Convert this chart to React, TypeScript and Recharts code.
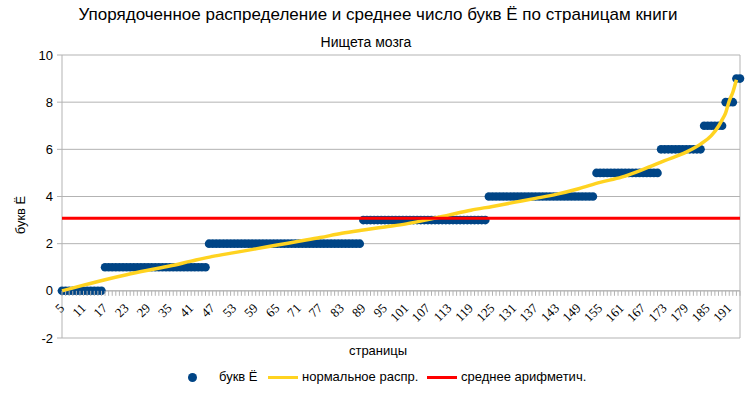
import React from 'react';
import {
  ComposedChart, Scatter, Line, XAxis, YAxis,
  CartesianGrid, ReferenceLine,
} from 'recharts';

// sorted count of letter Ё per page, pages 5..194
const FIRST_PAGE = 5;
const LETTER_COUNTS = [
  0, 0, 0, 0, 0, 0, 0, 0, 0, 0, 0, 0,
  1, 1, 1, 1, 1, 1, 1, 1, 1, 1, 1, 1, 1, 1, 1, 1, 1, 1, 1, 1, 1, 1, 1, 1, 1, 1, 1, 1, 1,
  2, 2, 2, 2, 2, 2, 2, 2, 2, 2, 2, 2, 2, 2, 2, 2, 2, 2, 2, 2, 2, 2,
  2, 2, 2, 2, 2, 2, 2, 2, 2, 2, 2, 2, 2, 2, 2, 2, 2, 2, 2, 2, 2,
  3, 3, 3, 3, 3, 3, 3, 3, 3, 3, 3, 3, 3, 3, 3, 3, 3, 3,
  3, 3, 3, 3, 3, 3, 3, 3, 3, 3, 3, 3, 3, 3, 3, 3, 3,
  4, 4, 4, 4, 4, 4, 4, 4, 4, 4, 4, 4, 4, 4, 4,
  4, 4, 4, 4, 4, 4, 4, 4, 4, 4, 4, 4, 4, 4, 4,
  5, 5, 5, 5, 5, 5, 5, 5, 5, 5, 5, 5, 5, 5, 5, 5, 5, 5,
  6, 6, 6, 6, 6, 6, 6, 6, 6, 6, 6, 6,
  7, 7, 7, 7, 7, 7,
  8, 8, 8,
  9, 9,
];

// normal distribution curve
const NORM_PAGES = [
  5, 11, 17, 23, 29, 35, 41, 47, 53, 59, 65, 71, 77, 83, 89, 95, 101, 107, 113,
  119, 125, 131, 137, 143, 149, 155, 161, 167, 173, 179, 183, 186, 188, 189, 190,
  191, 192, 193,
];
const NORM_VALUES = [
  0.0, 0.24, 0.47, 0.68, 0.87, 1.05, 1.26, 1.46, 1.62, 1.78, 1.94, 2.1, 2.26,
  2.44, 2.58, 2.71, 2.84, 3.02, 3.22, 3.42, 3.58, 3.75, 3.92, 4.1, 4.33, 4.6,
  4.82, 5.15, 5.52, 5.88, 6.22, 6.58, 6.98, 7.25, 7.55, 8.05, 8.42, 8.95,
];

const MEAN_VALUE = 3.08;
const LAST_PAGE = 194;

const X_TICKS = [
  5, 11, 17, 23, 29, 35, 41, 47, 53, 59, 65, 71, 77, 83, 89, 95, 101, 107, 113,
  119, 125, 131, 137, 143, 149, 155, 161, 167, 173, 179, 185, 191,
];
const Y_TICKS = [-2, 0, 2, 4, 6, 8, 10];

const BLUE = '#004586';
const YELLOW = '#ffd320';
const RED = '#ff0000';
const GRID = '#b3b3b3';

const W = 756;
const H = 398;
const PLOT_TOP = 55;
const X_AXIS_H = 60;
const PLOT_BOTTOM = H - X_AXIS_H;
const Y0 = PLOT_BOTTOM - ((PLOT_BOTTOM - PLOT_TOP) * 2) / 12;

const countData = LETTER_COUNTS.map((c, i) => ({ page: FIRST_PAGE + i, count: c }));
const allPages = countData.map(d => d.page);
const normData = NORM_PAGES.map((p, i) => ({ page: p, norm: NORM_VALUES[i] }));
const meanData = [
  { page: FIRST_PAGE, mean: MEAN_VALUE },
  { page: LAST_PAGE, mean: MEAN_VALUE },
];

const SANS = '"Liberation Sans", Arial, sans-serif';
const NARROW = '"Liberation Sans Narrow", "Liberation Sans", sans-serif';

function PageTick(props: any) {
  const { x, payload } = props;
  const v = payload.value as number;
  const labelled = X_TICKS.includes(v);
  return (
    <g>
      <line x1={x} x2={x} y1={Y0} y2={Y0 + 5} stroke={GRID} />
      {labelled && (
        <text
          x={x + 3}
          y={Y0 + 18}
          textAnchor="end"
          fontSize={13}
          fontFamily='"Liberation Serif", serif'
          fill="#000"
          transform={`rotate(-45, ${x + 3}, ${Y0 + 18})`}
        >
          {v}
        </text>
      )}
    </g>
  );
}

const Dot = (props: any) => (
  <circle cx={props.cx} cy={props.cy} r={4.3} fill={BLUE} />
);

export default function App() {
  return (
    <div style={{ position: 'absolute', left: 0, top: 0, width: W, height: H, background: '#fff' }}>
      <ComposedChart
        width={W}
        height={H}
        margin={{ top: PLOT_TOP, right: 16, bottom: 0, left: 0 }}
      >
        <CartesianGrid vertical={false} stroke={GRID} />
        <XAxis
          type="number"
          dataKey="page"
          domain={[FIRST_PAGE, LAST_PAGE]}
          ticks={allPages}
          interval={0}
          height={X_AXIS_H}
          axisLine={false}
          tickLine={false}
          tick={<PageTick />}
        />
        <YAxis
          type="number"
          domain={[-2, 10]}
          ticks={Y_TICKS}
          interval={0}
          width={62}
          axisLine={{ stroke: GRID }}
          tickLine={{ stroke: GRID }}
          tickSize={5}
          tickMargin={4}
          tick={{ fontSize: 13, fill: '#000', fontFamily: SANS }}
        />
        <ReferenceLine y={0} stroke={GRID} />
        <ReferenceLine x={LAST_PAGE} stroke={GRID} />
        <Scatter data={countData} dataKey="count" shape={Dot} isAnimationActive={false} zIndex={500} />
        <Line
          data={normData}
          dataKey="norm"
          type="monotone"
          stroke={YELLOW}
          strokeWidth={3.5}
          dot={false}
          isAnimationActive={false}
          zIndex={700}
        />
        <Line
          data={meanData}
          dataKey="mean"
          stroke={RED}
          strokeWidth={3}
          dot={false}
          isAnimationActive={false}
          zIndex={800}
        />
      </ComposedChart>

      <div style={{ position: 'absolute', left: 0, width: W, top: 5, textAlign: 'center', fontFamily: NARROW, fontSize: 17 }}>
        Упорядоченное распределение и среднее число букв Ё по страницам книги
      </div>
      <div style={{ position: 'absolute', left: 0, width: 732, top: 34, textAlign: 'center', fontFamily: NARROW, fontSize: 14 }}>
        Нищета мозга
      </div>
      <div
        style={{
          position: 'absolute', left: 20, top: 215, fontFamily: SANS, fontSize: 13,
          transform: 'translate(-50%, -50%) rotate(-90deg)', whiteSpace: 'nowrap',
        }}
      >
        букв Ё
      </div>
      <div style={{ position: 'absolute', left: 0, width: 756, top: 343, textAlign: 'center', fontFamily: SANS, fontSize: 13 }}>
        страницы
      </div>

      <div style={{ position: 'absolute', top: 369, left: 0, height: 16, fontFamily: SANS, fontSize: 13 }}>
        <span style={{ position: 'absolute', left: 188, top: 4, width: 9, height: 9, borderRadius: '50%', background: BLUE }} />
        <span style={{ position: 'absolute', left: 219, top: 0, whiteSpace: 'nowrap' }}>букв Ё</span>
        <span style={{ position: 'absolute', left: 268, top: 7, width: 30, height: 3, background: YELLOW }} />
        <span style={{ position: 'absolute', left: 302, top: 0, whiteSpace: 'nowrap' }}>нормальное распр.</span>
        <span style={{ position: 'absolute', left: 427, top: 7, width: 30, height: 3, background: RED }} />
        <span style={{ position: 'absolute', left: 461, top: 0, whiteSpace: 'nowrap' }}>среднее арифметич.</span>
      </div>
    </div>
  );
}
